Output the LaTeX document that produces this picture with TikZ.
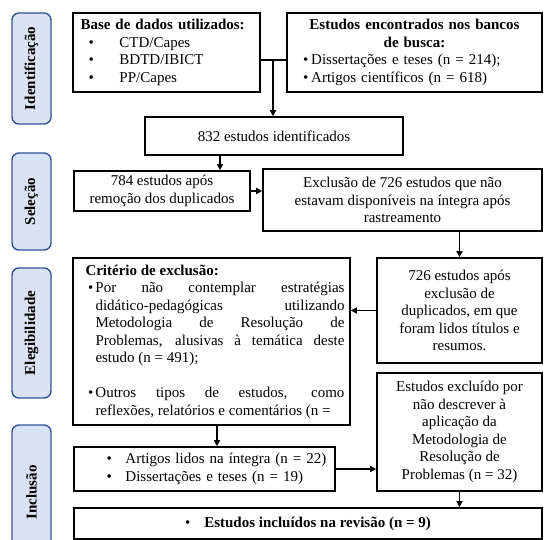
\documentclass[tikz,border=0pt]{standalone}
\usepackage{fontspec}
\setmainfont{Liberation Serif}
\usetikzlibrary{arrows.meta}
\definecolor{phasefill}{RGB}{218,227,243}
\definecolor{phaseline}{RGB}{47,85,151}

\begin{document}
\begin{tikzpicture}[x=1pt,y=-1pt,
    box/.style={%
        draw=black, line width=1.6pt,
        inner sep=0pt, align=center,
        font=\fontsize{15}{17.5}\selectfont},
    phase/.style={%
        draw=phaseline, fill=phasefill, line width=1.4pt,
        rounded corners=7pt, minimum height=39pt,
        rotate=90, inner sep=0pt,
        font=\fontsize{15}{18}\selectfont\bfseries},
    arr/.style={-{Triangle[length=6pt,width=6pt]}, line width=1.4pt},
    link/.style={line width=1.4pt},
]
\useasboundingbox (0,0) rectangle (544,540);

    % Phases
    \node[phase, minimum width=111pt] (idf) at (31.5,68.5) {Identificação};
    \node[phase, minimum width=97pt]  (sel) at (31.5,201.5) {Seleção};
    \node[phase, minimum width=130pt] (ele) at (31.5,333) {Elegibilidade};
    \node[phase, minimum width=135pt] (inc) at (31.5,492.5) {Inclusão};

    % Identification
    \node[box, minimum width=187pt, minimum height=79pt, text width=172pt, align=left] (bases) at (166.5,52.5)
        {\textbf{Base de dados utilizados:}\\
         \hspace*{8pt}\makebox[31pt][l]{\textbullet}CTD/Capes\\
         \hspace*{8pt}\makebox[31pt][l]{\textbullet}BDTD/IBICT\\
         \hspace*{8pt}\makebox[31pt][l]{\textbullet}PP/Capes};
    \node[box, minimum width=255pt, minimum height=79pt, text width=235pt, align=left] (found) at (414.5,52.5)
        {{\centering\bfseries Estudos encontrados nos bancos\\de busca:\par}
         \hspace*{6pt}\textbullet\hspace{3pt}Dissertações e teses (n = 214);\\
         \hspace*{6pt}\textbullet\hspace{3pt}Artigos científicos (n = 618)};
    \node[box, minimum width=258pt, minimum height=38pt] (ident) at (274,136)
        {832 estudos identificados};

    % Selection
    \node[box, minimum width=176pt, minimum height=40pt] (dupl) at (162,191)
        {784 estudos após\\remoção dos duplicados};
    \node[box, minimum width=279pt, minimum height=62pt] (excl) at (402.5,200)
        {Exclusão de 726 estudos que não\\estavam disponíveis na íntegra após\\rastreamento};

    % Eligibility
    \node[box, minimum width=277pt, minimum height=167pt, text width=266pt, align=justify] (crit) at (211.5,341.5)
        {\hspace*{7pt}\textbf{Critério de exclusão:}\par
         \leftskip=17pt
         \noindent\llap{\textbullet\hspace{2pt}}Por não contemplar estratégias\linebreak
         didático-pedagógicas utilizando\linebreak
         Metodologia de Resolução de\linebreak
         Problemas, alusivas à temática deste\linebreak
         estudo (n = 491);\par
         \mbox{}\par
         \noindent\llap{\textbullet\hspace{2pt}}Outros tipos de estudos, como\linebreak
         \mbox{reflexões, relatórios e comentários (n =}\par};
    \node[box, minimum width=165pt, minimum height=105pt] (read) at (459.5,310.5)
        {726 estudos após\\exclusão de\\duplicados, em que\\foram lidos títulos e\\resumos.};
    \node[box, minimum width=165pt, minimum height=118pt] (nometh) at (459.5,432)
        {Estudos excluído por\\não descrever à\\aplicação da\\Metodologia de\\Resolução de\\Problemas (n = 32)};

    % Inclusion
    \node[box, minimum width=261pt, minimum height=44pt, text width=258pt, align=left] (full) at (204.5,469)
        {\hspace*{31pt}\makebox[19pt][l]{\textbullet}\mbox{Artigos lidos na íntegra (n = 22)}\\
         \hspace*{31pt}\makebox[19pt][l]{\textbullet}\mbox{Dissertações e teses (n = 19)}};
    \node[box, minimum width=468pt, minimum height=31pt] (final) at (308,523.5)
        {\textbullet\hspace{14pt}\textbf{Estudos incluídos na revisão (n = 9)}};

    % Connectors
    \coordinate (jn) at (273,60);
    \coordinate (cd) at (220,0);
    \coordinate (fg) at (217,0);
    \draw[link] (bases.east |- jn) -- (found.west |- jn);
    \draw[arr] (jn) -- (jn |- ident.north);
    \draw[arr] (ident.south -| cd) -- (dupl.north -| cd);
    \draw[arr] (dupl.east) -- (dupl.east -| excl.west);
    \draw[arr] (excl.south -| read.north) -- (read.north);
    \draw[arr] (read.west) -- (read.west -| crit.east);
    \draw[arr] (crit.south -| fg) -- (full.north -| fg);
    \draw[arr] (full.east) -- (full.east -| nometh.west);
    \draw[arr] (nometh.south) -- (nometh.south |- final.north);
\end{tikzpicture}
\end{document}
